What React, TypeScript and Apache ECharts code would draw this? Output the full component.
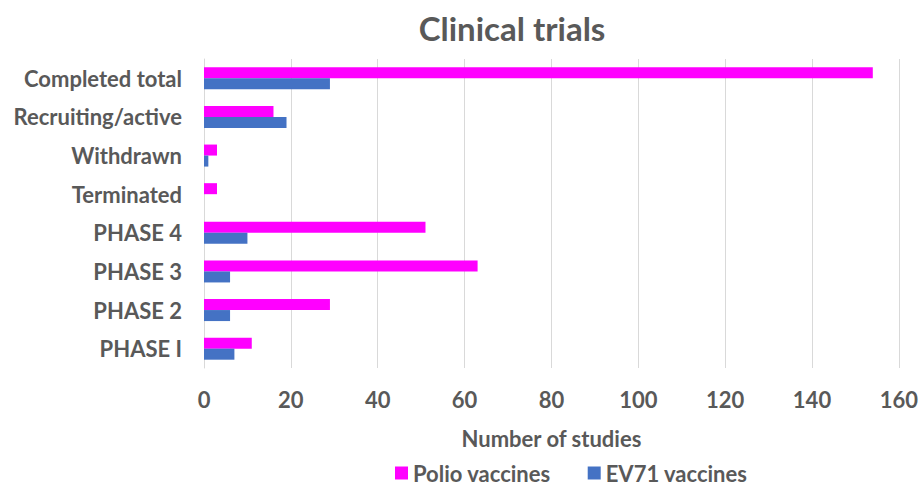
import React, { useEffect, useRef } from "react";
import * as echarts from "echarts";

const categories = [
  "Completed total",
  "Recruiting/active",
  "Withdrawn",
  "Terminated",
  "PHASE 4",
  "PHASE 3",
  "PHASE 2",
  "PHASE I",
];
const polio = [154, 16, 3, 3, 51, 63, 29, 11];
const ev71 = [29, 19, 1, 0, 10, 6, 6, 7];
const xTicksMax = 160;
const xInterval = 20;

const FONT = "Lato";
const TEXT = "#595959";

export default function App() {
  const ref = useRef<HTMLDivElement>(null);
  useEffect(() => {
    document.body.style.margin = "0";
    const chart = echarts.init(ref.current!, null, { renderer: "svg" });
    chart.setOption({
      animation: false,
      backgroundColor: "#ffffff",
      textStyle: { fontFamily: FONT },
      title: {
        text: "Clinical trials",
        left: 507,
        textAlign: "center",
        top: 6,
        textStyle: { fontFamily: FONT, fontSize: 33, fontWeight: "bold", color: TEXT },
      },
      legend: {
        top: 462,
        left: 395,
        padding: 0,
        itemWidth: 13,
        itemHeight: 13,
        itemGap: 37,
        icon: "rect",
        data: ["Polio vaccines", "EV71 vaccines"],
        textStyle: { fontFamily: FONT, fontSize: 22, fontWeight: "bold", color: TEXT },
      },
      grid: { left: 204, right: 21, top: 59, bottom: 118, containLabel: false },
      xAxis: {
        type: "value",
        min: 0,
        max: xTicksMax,
        interval: xInterval,
        name: "Number of studies",
        nameLocation: "middle",
        nameGap: 59,
        nameTextStyle: { fontFamily: FONT, fontSize: 22, fontWeight: "bold", color: TEXT },
        axisLine: { show: false },
        axisTick: { show: false },
        axisLabel: { fontFamily: FONT, fontSize: 22, fontWeight: "bold", color: TEXT, margin: 20 },
        splitLine: { show: true, lineStyle: { color: "#d9d9d9", width: 1 } },
      },
      yAxis: {
        type: "category",
        inverse: true,
        data: categories,
        axisLine: { show: true, lineStyle: { color: "#d9d9d9" } },
        axisTick: { show: false },
        axisLabel: { fontFamily: FONT, fontSize: 22, fontWeight: "bold", color: TEXT, margin: 22 },
      },
      series: [
        {
          name: "Polio vaccines",
          type: "bar",
          data: polio,
          itemStyle: { color: "#FF00FF" },
          barGap: "0%",
          barCategoryGap: "43%",
        },
        {
          name: "EV71 vaccines",
          type: "bar",
          data: ev71,
          itemStyle: { color: "#4472C4" },
          barGap: "0%",
          barCategoryGap: "43%",
        },
      ],
    });
    return () => chart.dispose();
  }, []);
  return <div ref={ref} style={{ width: 921, height: 486 }} />;
}
